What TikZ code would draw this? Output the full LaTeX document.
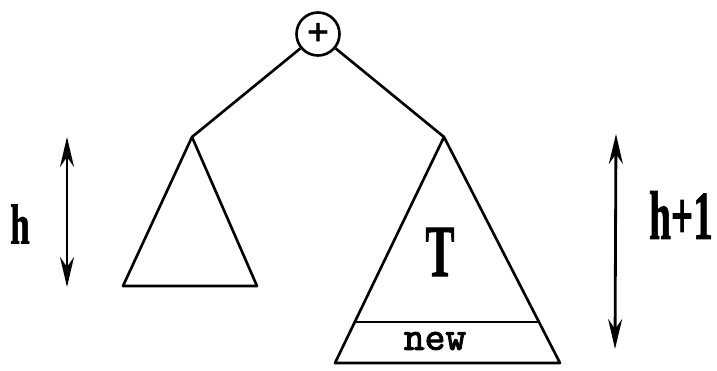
\documentclass[tikz,border=0pt]{standalone}
\usepackage{fontspec}
\usepackage{tikz}
\usetikzlibrary{arrows.meta, calc}
\newfontfamily\heavyserif[FakeBold=1.5]{Liberation Serif Bold}
\newfontfamily\heavymono[FakeBold=2.5]{Latin Modern Mono}
\tikzset{
  edge/.style={line width=1.5pt, line join=round},
  opnode/.style={draw, circle, line width=1.5pt, minimum size=0.86cm, inner sep=0pt,
                 font=\fontsize{22}{22}\selectfont\heavyserif},
  heightarrow/.style={{Stealth[length=0.6cm, width=0.28cm, inset=0.2cm]}-{Stealth[length=0.6cm, width=0.28cm, inset=0.2cm]},
                      line width=1.6pt},
  biglabel/.style={inner sep=0pt, font=\fontsize{32}{32}\selectfont\heavyserif, xscale=0.62},
  newlabel/.style={inner sep=0pt, font=\fontsize{23}{23}\selectfont\heavymono}
}
\begin{document}
\begin{tikzpicture}[x=0.02cm, y=-0.02cm]
\useasboundingbox (0,0) rectangle (717,371);

% Root
\node[opnode] (root) at (318,34) {+};

% Left subtree
\coordinate (ltop)   at (192,137);
\coordinate (lleft)  at (123,286);
\coordinate (lright) at (257,286);
\draw[edge] (ltop) -- (lleft) -- (lright) -- cycle;

% Right subtree
\coordinate (rtop)   at (444,137);
\coordinate (rleft)  at (335,363);
\coordinate (rright) at (560,363);
\draw[edge] (rtop) -- (rleft) -- (rright) -- cycle;
\draw[edge] ($(rtop)!0.819!(rleft)$) -- ($(rtop)!0.819!(rright)$);
\node[biglabel, font=\fontsize{42}{42}\selectfont\heavyserif, xscale=0.95] (tlabel) at (440,252) {T};
\node[newlabel] (newlabel) at (435,341) {new};

% Edges from root
\draw[edge] (root) -- (ltop);
\draw[edge] (root) -- (rtop);

% Heights
\coordinate (htop) at (67,137);
\coordinate (hbot) at (67,287);
\draw[heightarrow] (htop) -- (hbot);
\node[biglabel] (hlabel) at (20,224) {h};

\coordinate (hhtop) at (616,134);
\coordinate (hhbot) at (615,349);
\draw[heightarrow] (hhtop) -- (hhbot);
\node[biglabel, font=\fontsize{39}{39}\selectfont\heavyserif, xscale=0.92] (hhlabel) at (681,215) {h+1};

\end{tikzpicture}
\end{document}
